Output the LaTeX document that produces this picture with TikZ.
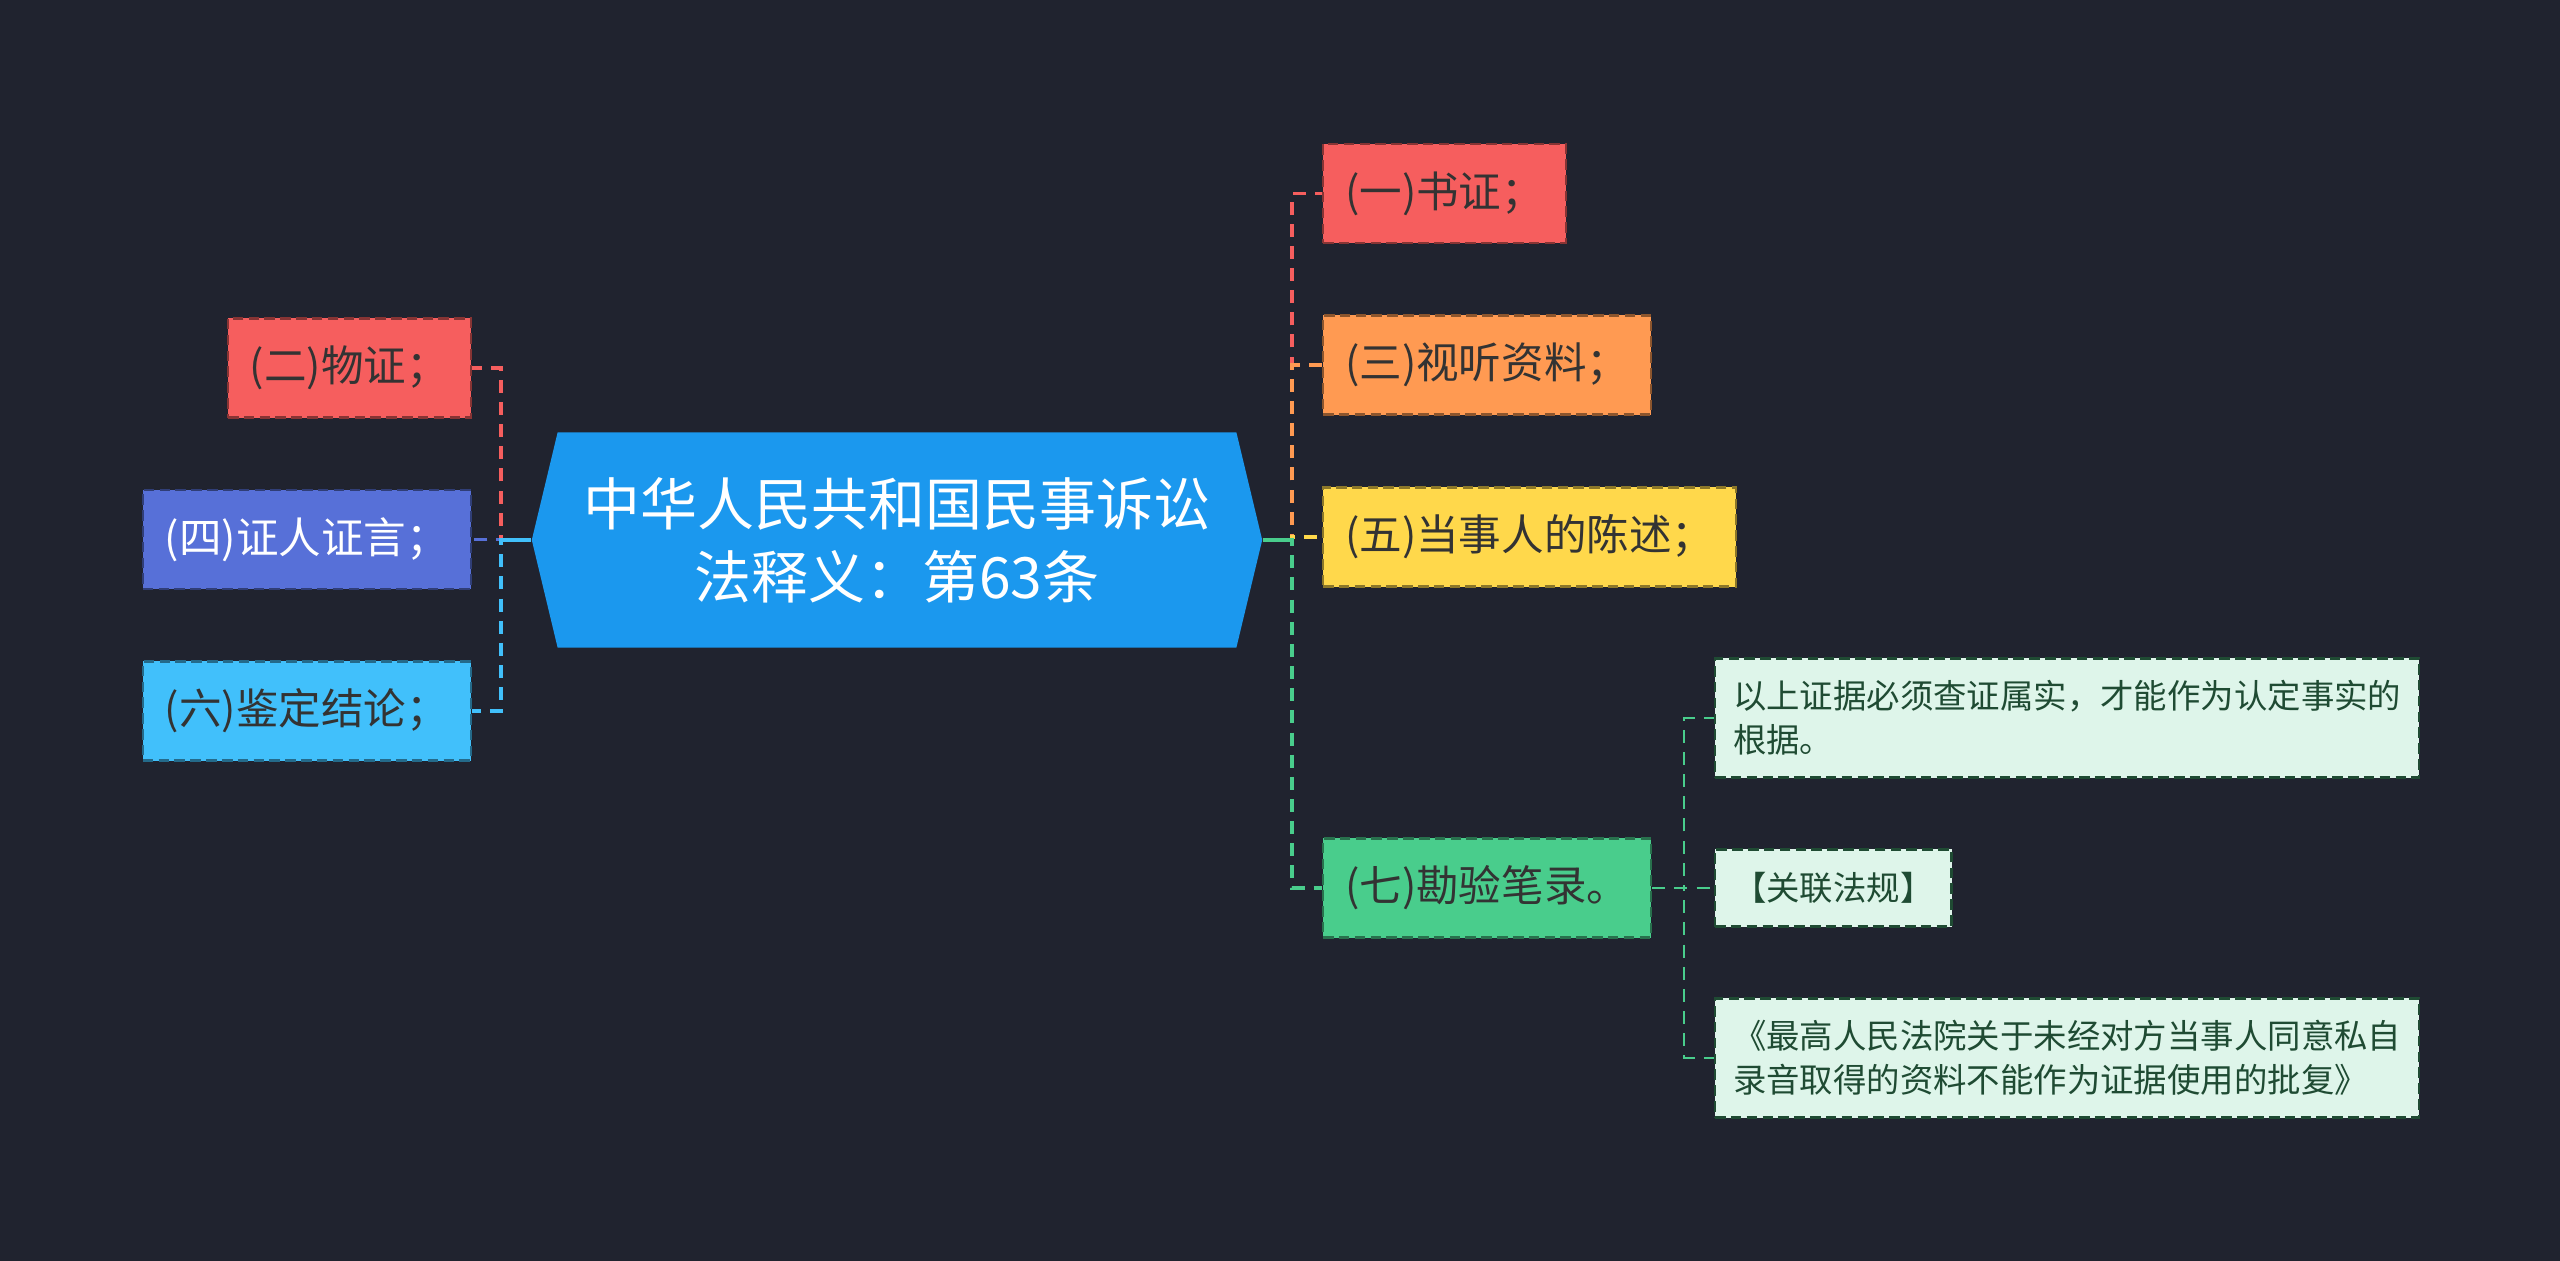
\documentclass[tikz,border=0pt]{standalone}
\usepackage{fontspec}
\setmainfont{Noto Sans CJK SC}
\usepackage{xcolor}
\usepackage{tikz}
\usetikzlibrary{shapes.symbols,positioning}
\definecolor{bg}{HTML}{20232F}
\definecolor{hubblue}{HTML}{1B98EE}
\definecolor{cred}{HTML}{F65E5E}
\definecolor{corange}{HTML}{FF9A52}
\definecolor{cyellow}{HTML}{FFD84B}
\definecolor{cgreen}{HTML}{49CD8C}
\definecolor{cpurple}{HTML}{5770D8}
\definecolor{csky}{HTML}{41C0FB}
\definecolor{mint}{HTML}{DEF5EA}
\definecolor{darktext}{HTML}{333333}
\definecolor{subtext}{HTML}{1F4B33}
\newcommand\hubfont{\fontsize{16.2pt}{20.8pt}\selectfont}
\newcommand\boxfont{\fontsize{12.1pt}{15pt}\selectfont}
\newcommand\smallboxfont{\fontsize{9.5pt}{12.5pt}\selectfont}
\tikzset{
  hubbox/.style={signal,signal to=west and east,signal pointer angle=153,
    fill=hubblue,text=white,minimum width=7.3cm,minimum height=2.15cm,
    align=center,font=\hubfont},
  box/.style={rectangle,fill=#1,draw=#1!55!black,dash pattern=on 3pt off 1.5pt,
    line width=0.6pt,minimum height=0.99cm,inner xsep=0.22cm,
    text=darktext,font=\boxfont},
  sub/.style={rectangle,fill=mint,draw=subtext,dash pattern=on 3pt off 1.5pt,
    line width=0.6pt,inner xsep=0.18cm,align=left,text=subtext,font=\smallboxfont},
  link/.style={draw=#1,line width=1pt,dash pattern=on 3.7pt off 2.6pt},
  stub/.style={draw=#1,line width=1pt},
  sublink/.style={draw=cgreen,line width=0.7pt,dash pattern=on 3.7pt off 2.6pt},
}
\begin{document}
\begin{tikzpicture}[x=0.01cm,y=-0.01cm]
\fill[bg] (0,0) rectangle (2560,1261);
\useasboundingbox (0,0) rectangle (2560,1261);

\node[hubbox] (hub) at (897,540) {中华人民共和国民事诉讼\\法释义：第63条};

% right branch
\node[box=cred,anchor=west] (yi) at (1322,193.5) {(一)书证；};
\node[box=corange,anchor=west] (san) at (1322,365) {(三)视听资料；};
\node[box=cyellow,anchor=west] (wu) at (1322,537) {(五)当事人的陈述；};
\node[box=cgreen,anchor=west] (qi) at (1322,888) {(七)勘验笔录。};

% left branch
\node[box=cred,anchor=east] (er) at (472,368) {(二)物证；};
\node[box=cpurple,anchor=east,text=white] (si) at (472,539.5) {(四)证人证言；};
\node[box=csky,anchor=east] (liu) at (472,711) {(六)鉴定结论；};

% notes under (七)
\node[sub,anchor=west,minimum height=1.19cm] (s1) at (1714,718) {以上证据必须查证属实，才能作为认定事实的\\根据。};
\node[sub,anchor=west,minimum height=0.77cm] (s2) at (1714,888) {【关联法规】};
\node[sub,anchor=west,minimum height=1.19cm] (s3) at (1714,1058) {《最高人民法院关于未经对方当事人同意私自\\录音取得的资料不能作为证据使用的批复》};

\draw[link=cred] (hub.east) -- ++(29,0) |- (yi.west);
\draw[link=corange] (hub.east) -- ++(29,0) |- (san.west);
\draw[link=cyellow] (hub.east) -- ++(29,0) |- (wu.west);
\draw[link=cgreen] (hub.east) -- ++(29,0) |- (qi.west);
\draw[stub=cgreen] (hub.east) -- ++(29,0);

\draw[link=cred] (hub.west) -- ++(-30,0) |- (er.east);
\draw[link=cpurple] (hub.west) -- ++(-30,0) |- (si.east);
\draw[link=csky] (hub.west) -- ++(-30,0) |- (liu.east);
\draw[stub=csky] (hub.west) -- ++(-30,0);

\draw[sublink] (qi.east) -- ++(32,0) |- (s1.west);
\draw[sublink] (qi.east) -- ++(32,0) |- (s2.west);
\draw[sublink] (qi.east) -- ++(32,0) |- (s3.west);
\end{tikzpicture}
\end{document}
